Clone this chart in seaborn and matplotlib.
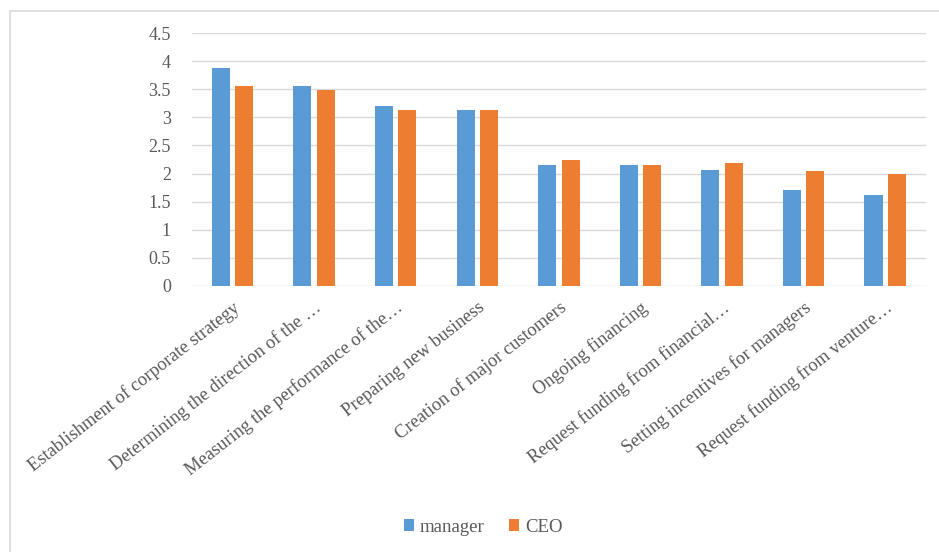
import matplotlib
matplotlib.use("Agg")
import matplotlib.pyplot as plt
from matplotlib.patches import Rectangle
import pandas as pd
import seaborn as sns

categories = [
    "Establishment of corporate strategy",
    "Determining the direction of the \u2026",
    "Measuring the performance of the\u2026",
    "Preparing new business",
    "Creation of major customers",
    "Ongoing financing",
    "Request funding from financial\u2026",
    "Setting incentives for managers",
    "Request funding from venture\u2026",
]
manager = [3.87, 3.56, 3.21, 3.13, 2.15, 2.15, 2.07, 1.70, 1.62]
ceo = [3.56, 3.49, 3.13, 3.13, 2.24, 2.15, 2.18, 2.04, 1.99]
series_names = ["manager", "CEO"]
y_ticks = [0, 0.5, 1, 1.5, 2, 2.5, 3, 3.5, 4, 4.5]
y_tick_labels = ["0", "0.5", "1", "1.5", "2", "2.5", "3", "3.5", "4", "4.5"]

df = pd.DataFrame({
    "task": categories * 2,
    "role": [series_names[0]] * len(categories) + [series_names[1]] * len(categories),
    "score": manager + ceo,
})

sns.set_theme(style="white")
plt.rcParams["font.family"] = ["Liberation Serif", "DejaVu Serif"]
text_color = "#595959"

W, H = 939, 552
fig = plt.figure(figsize=(W / 100, H / 100), dpi=100)
ax = fig.add_axes([191.7 / W, 1 - 286 / H, (926 - 191.7) / W, (286 - 33) / H])

# light chart-area frame
fig.patches.append(Rectangle((10 / W, -0.05), 1.1, 1 - 11 / H + 0.05,
                             transform=fig.transFigure, fill=False,
                             edgecolor="#d9d9d9", linewidth=1.2, zorder=0))

sns.barplot(data=df, x="task", y="score", hue="role", order=categories,
            hue_order=series_names, palette=["#5B9BD5", "#ED7D31"],
            saturation=1, width=0.575, gap=0.23, linewidth=0,
            errorbar=None, ax=ax, zorder=3)

ax.set_ylim(0, 4.5)
ax.set_xlim(-0.5, len(categories) - 0.5)
ax.set_yticks(y_ticks)
ax.set_yticklabels(y_tick_labels)
ax.grid(axis="y", color="#d9d9d9", linewidth=1.0, zorder=0)
ax.set_axisbelow(True)
for s in ax.spines.values():
    s.set_visible(False)
ax.set_xlabel("")
ax.set_ylabel("")
ax.tick_params(axis="both", length=0, labelcolor=text_color)
ax.tick_params(axis="y", labelsize=13, pad=15)
ax.tick_params(axis="x", labelsize=13.3, pad=9)
ax.set_xticks(range(len(categories)))
ax.set_xticklabels(categories, rotation=38, ha="right", rotation_mode="anchor")

handles, labels = ax.get_legend_handles_labels()
ax.legend_.remove()
fig.legend(handles, labels, loc="center", bbox_to_anchor=(483 / W, 1 - 527 / H),
           ncol=2, frameon=False, fontsize=13.5, labelcolor=text_color,
           handlelength=0.55, handleheight=0.55, handletextpad=0.3,
           columnspacing=1.3)

fig.savefig("out.png", dpi=100)
